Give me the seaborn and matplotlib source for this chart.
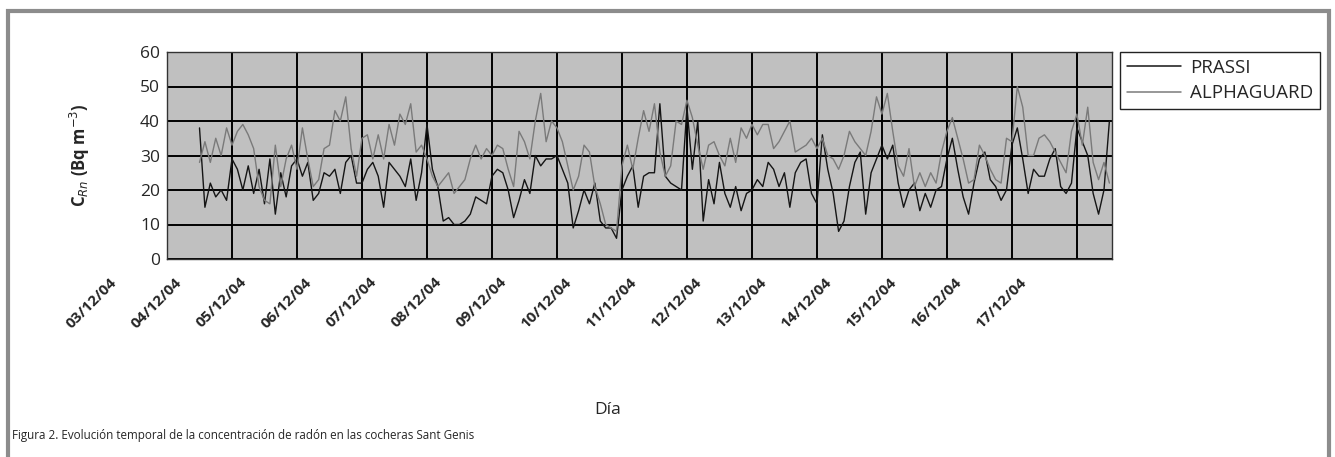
import numpy as np
import pandas as pd
import matplotlib
matplotlib.use("Agg")
import matplotlib.pyplot as plt
import matplotlib.dates as mdates
from matplotlib.transforms import ScaledTranslation
from matplotlib.patches import Rectangle
import seaborn as sns

# Data: 2-hourly readings, 03/12/2004 12:00 -> 17/12/2004 12:00
fecha = pd.date_range("2004-12-03 12:00", periods=169, freq="2h")

prassi = [38, 15, 22, 18, 20, 17, 29, 26, 20, 27, 19, 26, 16, 29, 13, 25, 18, 27, 29, 24,
          28, 17, 19, 25, 24, 26, 19, 28, 30, 22,
          22, 26, 28, 24, 15, 28, 26, 24, 21, 29, 17, 25, 39, 26, 21, 11, 12, 10, 10, 11,
          13, 18, 17, 16, 24, 26, 25, 20, 12, 17, 23, 19, 30, 27, 29,
          29, 30, 26, 22, 9, 14, 20, 16, 22, 11, 9, 9, 6, 20, 24, 27, 15, 24, 25, 25,
          45, 24, 22, 21, 20, 44, 26, 40, 11, 23, 16, 28, 19, 15, 21,
          14, 19, 20, 23, 21, 28, 26, 21, 25, 15, 25, 28, 29, 19, 16, 36, 26, 19, 8, 11,
          21, 28, 31, 13, 25, 29, 33, 29, 33, 22, 15, 20, 22, 14, 19,
          15, 20, 21, 29, 35, 26, 18, 13, 22, 29, 31, 23, 21, 17, 20, 33, 38, 29, 19, 26,
          24, 24, 29, 32, 21, 19, 22, 38, 34, 30, 19, 13, 20, 40]

alphaguard = [28, 34, 28, 35, 30, 38, 33, 37, 39, 36, 32, 21, 17, 16, 33, 21, 29, 33, 26, 38,
              29, 21, 23, 32, 33, 43, 40, 47, 32, 24,
              35, 36, 29, 36, 29, 39, 33, 42, 39, 45, 31, 33, 29, 24, 21, 23, 25, 19, 21, 23,
              29, 33, 29, 32, 30, 33, 32, 26, 21, 37, 34, 29, 40, 48, 34,
              40, 38, 34, 27, 20, 24, 33, 31, 21, 16, 10, 9, 8, 27, 33, 26, 35, 43, 37, 45,
              31, 24, 27, 40, 39, 46, 41, 33, 26, 33, 34, 30, 27, 35, 28,
              38, 35, 39, 36, 39, 39, 32, 34, 37, 40, 31, 32, 33, 35, 32, 35, 30, 29, 26, 30,
              37, 34, 32, 30, 37, 47, 42, 48, 37, 27, 24, 32, 21, 25, 21,
              25, 22, 31, 37, 41, 35, 29, 22, 23, 33, 30, 26, 23, 22, 35, 34, 50, 44, 30, 30,
              35, 36, 34, 31, 28, 25, 37, 42, 33, 44, 28, 23, 28, 22]

series = ["PRASSI", "ALPHAGUARD"]
colors = ["#151515", "#7a7a7a"]

df = pd.DataFrame({"Fecha": fecha, "PRASSI": prassi, "ALPHAGUARD": alphaguard})
df_long = df.melt(id_vars="Fecha", var_name="Equipo", value_name="Conc")

# Style
sns.set_style("white")
plt.rcParams["font.family"] = ["Open Sans", "DejaVu Sans"]

fig = plt.figure(figsize=(13.35, 4.57), dpi=100)
ax = fig.add_axes([167 / 1335, 1 - 259 / 457, 945 / 1335, 207 / 457])
ax.set_facecolor("#c0c0c0")

sns.lineplot(data=df_long, x="Fecha", y="Conc", hue="Equipo",
             hue_order=series, palette=colors, linewidth=1.0, ax=ax, legend=False)

# Axes limits / ticks
x0 = pd.Timestamp("2004-12-03 00:00")
ax.set_xlim(x0, x0 + pd.Timedelta(days=14.54))
ax.set_ylim(0, 60)
ax.set_yticks(range(0, 61, 10))
ax.set_yticks(range(5, 60, 10), minor=True)

ax.xaxis.set_major_locator(mdates.DayLocator())
ax.xaxis.set_major_formatter(mdates.DateFormatter("%d/%m/%y"))
ax.xaxis.set_minor_locator(mdates.HourLocator(byhour=12))

ax.grid(True, which="major", color="black", linewidth=1.4)
ax.tick_params(axis="both", which="major", length=0, labelsize=12.5, pad=5)
ax.tick_params(axis="both", which="minor", direction="in", length=4, width=1, color="#333333")
ax.tick_params(axis="x", which="major", labelsize=11)

for spine in ax.spines.values():
    spine.set_color("#333333")
    spine.set_linewidth(1.0)

# rotated date labels, shifted left like the original
fig.canvas.draw()
offset = ScaledTranslation(-0.53, -0.14, fig.dpi_scale_trans)
for lab in ax.get_xticklabels():
    lab.set_rotation(45)
    lab.set_ha("right")
    lab.set_va("center")
    lab.set_rotation_mode("anchor")
    lab.set_fontweight("bold")
    lab.set_transform(lab.get_transform() + offset)

ax.set_xlabel("Día", fontsize=12.5)
ax.xaxis.set_label_coords(0.466, -0.69)
ax.set_ylabel("C$_{Rn}$ (Bq m$^{-3}$)", fontsize=12, fontweight="bold")
ax.yaxis.set_label_coords(-0.079, 0.5)

# Legend
handles = [plt.Line2D([], [], color=c, linewidth=1.1) for c in colors]
leg = fig.legend(handles, series, loc="upper left",
                 bbox_to_anchor=(1120 / 1335, 1 - 52 / 457), bbox_transform=fig.transFigure,
                 borderaxespad=0, fontsize=13.5, handlelength=2.9, handletextpad=0.5,
                 labelspacing=0.4, borderpad=0.35, fancybox=False, framealpha=1)
leg.get_frame().set_edgecolor("#222222")
leg.get_frame().set_linewidth(1.0)

# Caption and outer frame
fig.text(12 / 1335, 1 - 436 / 457,
         "Figura 2. Evolución temporal de la concentración de radón en las cocheras Sant Genis",
         fontsize=8.4, va="center", ha="left")
fig.patches.append(Rectangle((8 / 1335, -0.05), 1321 / 1335, 1.05 - 11 / 457,
                             transform=fig.transFigure, fill=False,
                             edgecolor="#8c8c8c", linewidth=3))

fig.savefig("out.png", dpi=100, facecolor="white")
